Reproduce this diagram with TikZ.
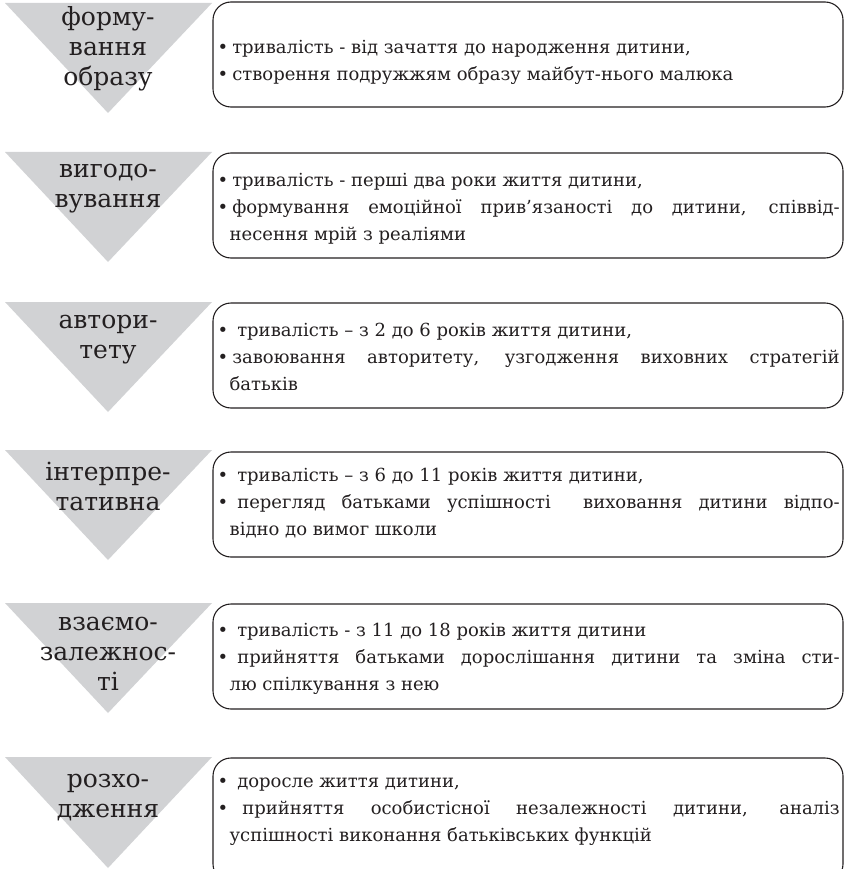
\documentclass[tikz,border=0pt]{standalone}
\usepackage{fontspec}
\setmainfont{DejaVu Serif}
\usetikzlibrary{positioning}
\definecolor{shade}{HTML}{D1D2D4}
\definecolor{ink}{HTML}{231F20}
\newcommand\dotitem[1][4pt]{•\kern#1}
\newcommand\contline{\linebreak\hspace*{12pt}}

\begin{document}
\begin{tikzpicture}[x=1pt,y=1pt,text=ink,stage/.style={fill=shade,draw=none},phase/.style={anchor=north,align=center,inner sep=0pt,font=\fontsize{25}{30}\selectfont},card/.style={draw=ink,line width=1.1pt,rounded corners=18pt,minimum width=630pt,minimum height=105pt,inner sep=0pt},desc/.style={text width=622pt,align=justify,inner sep=0pt,font=\fontsize{18}{27}\selectfont}]
 \useasboundingbox (0,0) rectangle (845,-869);
 \fill[stage] (5,-3) -- (212,-3) -- (108,-113) -- cycle; \node[phase] (p1) at (108,-4) {\strut форму-\\вання\\образу};
 \fill[stage] (5,-152) -- (212,-152) -- (108,-262) -- cycle; \node[phase] (p2) at (108,-156) {\strut вигодо-\\вування};
 \fill[stage] (5,-302) -- (212,-302) -- (108,-412) -- cycle; \node[phase] (p3) at (108,-307) {\strut автори-\\тету};
 \fill[stage] (5,-450) -- (212,-450) -- (108,-560) -- cycle; \node[phase] (p4) at (108,-459) {\strut інтерпре-\\тативна};
 \fill[stage] (5,-603) -- (212,-603) -- (108,-713) -- cycle; \node[phase] (p5) at (108,-609) {\strut взаємо-\\залежнос-\\ті};
 \fill[stage] (5,-757) -- (212,-757) -- (108,-868) -- cycle; \node[phase] (p6) at (108,-766) {\strut розхо-\\дження};
 \node[card] (b1) at (528,-54.5) {}; \node[card] (b2) at (528,-205.5) {}; \node[card] (b3) at (528,-355.5) {};
 \node[card] (b4) at (528,-504.5) {}; \node[card] (b5) at (528,-656.5) {};
 \node[card,minimum height=124pt] (b6) at (528,-820) {};
 \node[desc,below right=33pt and 5pt of b1.north west] (t1) {\strut\dotitem тривалість - від зачаття до народження дитини,\\\dotitem створення подружжям образу майбут-нього малюка};
 \node[desc,below right=15pt and 5pt of b2.north west] (t2) {\strut\dotitem тривалість - перші два роки життя дитини,\\\dotitem формування емоційної прив’язаності до дитини, співвід-\contline несення мрій з реаліями};
 \node[desc,below right=15pt and 5pt of b3.north west] (t3) {\strut\dotitem[9pt]тривалість – з 2 до 6 років життя дитини,\\\dotitem завоювання авторитету, узгодження виховних стратегій\contline батьків};
 \node[desc,below right=11pt and 5pt of b4.north west] (t4) {\strut\dotitem[9pt]тривалість – з 6 до 11 років життя дитини,\\\dotitem[9pt]перегляд батьками успішності\ \ виховання дитини відпо-\contline відно до вимог школи};
 \node[desc,below right=14pt and 5pt of b5.north west] (t5) {\strut\dotitem[9pt]тривалість - з 11 до 18 років життя дитини\\\dotitem[9pt]прийняття батьками дорослішання дитини та зміна сти-\contline лю спілкування з нею};
 \node[desc,below right=11pt and 5pt of b6.north west] (t6) {\strut\dotitem[9pt]доросле життя дитини,\\\dotitem[14pt]прийняття особистісної незалежності дитини, аналіз\contline успішності виконання батьківських функцій};
\end{tikzpicture}
\end{document}
